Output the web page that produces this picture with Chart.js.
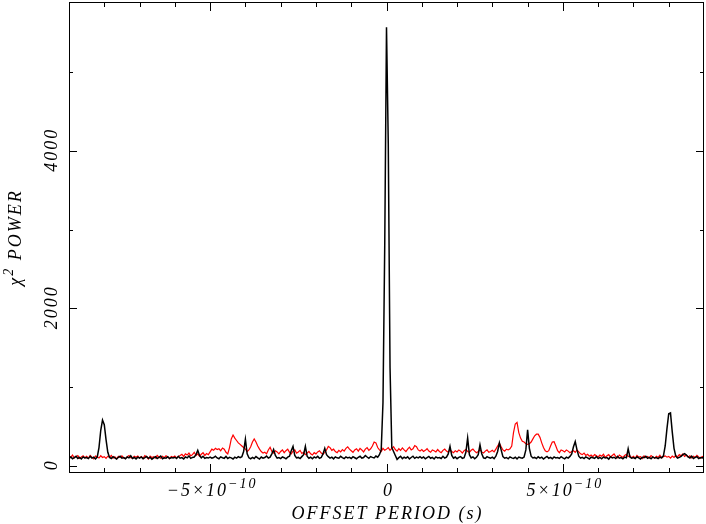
<!DOCTYPE html>
<html><head><meta charset="utf-8">
<script src="https://cdn.jsdelivr.net/npm/chart.js@4.4.0/dist/chart.umd.min.js"></script>
<style>html,body{margin:0;padding:0;background:#fff}</style>
</head><body>
<canvas id="c" width="706" height="524"></canvas>
<script>
// Offset period grid: starts at -9e-10 s, step 5e-12 s (361 samples)
const offsetStart = -9e-10;
const offsetStep = 5e-12;

// chi^2 power, black series (one row = 1e-10 s)
const blackPower = [
 95,110,88,102,120,92,105,85,112,98,104,90,118,96,108,87,110,230,450,580,
 520,330,170,105,92,115,98,84,106,120,95,102,88,110,99,125,92,104,86,108,
 97,112,89,103,118,94,107,83,100,115,92,105,121,88,101,96,113,90,104,98,
 107,91,118,95,102,86,111,99,124,93,105,110,140,195,130,100,120,92,103,97,
 110,95,104,120,98,88,112,101,93,117,90,106,99,85,108,96,114,102,115,180,
 335,150,100,88,105,92,116,99,84,110,95,103,122,97,108,150,205,130,96,104,
 90,112,101,87,109,120,190,245,130,98,105,91,115,140,245,120,95,107,88,110,
 99,118,93,104,150,220,140,115,96,108,87,112,100,94,119,103,90,111,98,106,
 92,114,101,88,107,120,96,104,130,110,93,116,105,98,122,108,140,200,800,2800,
 5570,4100,1250,230,180,130,80,102,118,90,107,95,112,86,104,120,93,108,99,115,
 96,110,88,103,117,94,106,85,112,99,104,91,119,97,108,150,245,130,95,110,
 89,105,116,93,101,170,350,140,98,112,87,106,140,265,150,100,92,115,103,96,
 108,90,120,180,290,200,115,95,104,88,112,99,93,107,86,110,101,95,110,200,
 455,220,120,98,105,90,113,96,108,85,102,117,94,106,89,111,98,104,92,115,
 100,87,109,96,118,150,240,305,200,120,95,106,90,112,99,85,108,101,94,116,
 92,105,88,110,97,103,84,114,99,107,91,118,95,102,87,109,100,215,110,96,
 104,90,113,98,85,107,101,119,93,105,88,111,97,103,90,108,100,125,250,470,
 660,670,430,220,120,95,105,118,140,152,135,110,98,120,92,106,115,90,104,97,
 108
];

// chi^2 power, red series
const redPower = [
 120,105,135,98,115,128,92,110,125,100,118,95,130,108,88,122,112,97,126,104,
 115,93,120,108,130,96,112,87,118,105,124,99,90,114,128,101,95,119,107,123,
 98,116,92,127,110,85,121,104,113,96,131,108,94,119,102,125,111,89,117,106,
 122,100,115,130,145,118,150,135,160,125,140,170,130,150,120,145,165,130,155,140,
 175,210,195,220,205,215,190,225,210,170,150,230,340,390,350,320,290,270,250,230,
 210,180,200,240,300,340,300,250,210,180,160,170,150,200,235,180,160,190,175,150,
 180,200,165,190,210,170,150,185,200,160,175,195,155,170,140,160,180,150,135,165,
 150,175,190,160,145,170,200,245,230,195,210,180,165,195,175,205,185,220,240,210,
 190,170,200,215,185,220,200,175,210,230,195,215,250,300,290,230,200,180,220,195,
 210,230,195,220,240,205,185,215,195,225,200,180,210,235,200,215,255,240,200,185,
 205,180,195,215,185,170,200,190,175,205,180,165,195,210,185,170,200,180,165,190,
 175,200,185,160,190,205,180,170,195,210,185,165,180,200,175,160,185,200,170,180,
 195,175,210,250,285,240,200,185,210,200,215,250,420,530,550,420,350,310,300,280,
 270,280,300,340,380,400,400,360,290,230,190,175,190,250,300,305,250,190,165,200,
 190,175,200,185,165,180,190,170,200,175,150,140,160,130,145,120,135,115,140,125,
 110,135,120,145,105,125,140,110,130,150,115,100,135,120,105,130,145,115,125,100,
 120,95,130,108,115,92,125,105,118,98,128,110,95,120,105,132,100,115,125,108,
 118,95,122,105,130,112,140,125,150,118,135,110,126,98,120,105,130,112,95,118,
 108
];

// Axis ticks
const xMajorTicks = [-5e-10, 0, 5e-10];
const xMinorTicks = [-8e-10,-7e-10,-6e-10,-4e-10,-3e-10,-2e-10,-1e-10,1e-10,2e-10,3e-10,4e-10,6e-10,7e-10,8e-10];
const xTickMain = ['\u22125\u00d710', '0', '5\u00d710'];
const xTickSup = ['\u221210', '', '\u221210'];
const yMajorTicks = [0, 2000, 4000];
const yMinorTicks = [1000, 3000, 5000];
const yTickLabels = ['0', '2000', '4000'];
const xTitle = 'OFFSET PERIOD (s)';
const yTitleParts = ['\u03c7', '2', ' POWER'];

const blackData = blackPower.map((v, i) => ({x: offsetStart + i * offsetStep, y: v}));
const redData = redPower.map((v, i) => ({x: offsetStart + i * offsetStep, y: v}));

const MAIN_FONT = 'italic 18px "Liberation Serif"';
const SUP_FONT = 'italic 14px "Liberation Serif"';

const framePlugin = {
  id: 'pgframe',
  afterDraw(chart) {
    const {ctx, chartArea: a, scales: {x, y}} = chart;
    ctx.save();
    ctx.strokeStyle = '#000';
    ctx.lineWidth = 1;
    ctx.strokeRect(a.left + 0.5, a.top + 0.5, a.right - a.left - 1, a.bottom - a.top - 1);
    ctx.beginPath();
    const xt = (v, len) => {
      const p = Math.round(x.getPixelForValue(v)) + 0.5;
      ctx.moveTo(p, a.bottom); ctx.lineTo(p, a.bottom - len);
      ctx.moveTo(p, a.top); ctx.lineTo(p, a.top + len);
    };
    const yt = (v, len) => {
      const p = Math.round(y.getPixelForValue(v)) + 0.5;
      ctx.moveTo(a.left, p); ctx.lineTo(a.left + len, p);
      ctx.moveTo(a.right, p); ctx.lineTo(a.right - len, p);
    };
    xMajorTicks.forEach(v => xt(v, 9));
    xMinorTicks.forEach(v => xt(v, 5));
    yMajorTicks.forEach(v => yt(v, 8));
    yMinorTicks.forEach(v => yt(v, 4));
    ctx.stroke();

    ctx.fillStyle = '#000';
    ctx.letterSpacing = '2px';
    ctx.textBaseline = 'alphabetic';
    // x tick labels
    xMajorTicks.forEach((v, i) => {
      const px = x.getPixelForValue(v);
      ctx.font = MAIN_FONT;
      const w1 = ctx.measureText(xTickMain[i]).width;
      ctx.font = SUP_FONT;
      const w2 = xTickSup[i] ? ctx.measureText(xTickSup[i]).width : 0;
      let sx = px - (w1 + w2) / 2 + 2;
      ctx.textAlign = 'left';
      ctx.font = MAIN_FONT;
      ctx.fillText(xTickMain[i], sx, 496);
      if (xTickSup[i]) {
        ctx.font = SUP_FONT;
        ctx.fillText(xTickSup[i], sx + w1, 488);
      }
    });
    // x title
    ctx.font = MAIN_FONT;
    ctx.textAlign = 'center';
    ctx.fillText(xTitle, (a.left + a.right) / 2 + 1, 519);
    // y tick labels (rotated)
    yMajorTicks.forEach((v, i) => {
      const py = y.getPixelForValue(v);
      ctx.save();
      ctx.translate(57, py);
      ctx.rotate(-Math.PI / 2);
      ctx.font = MAIN_FONT;
      ctx.textAlign = 'center';
      ctx.fillText(yTickLabels[i], 1, 0);
      ctx.restore();
    });
    // y title (rotated)
    ctx.save();
    ctx.translate(21, (a.top + a.bottom) / 2);
    ctx.rotate(-Math.PI / 2);
    ctx.textAlign = 'left';
    ctx.font = MAIN_FONT;
    const wa = ctx.measureText(yTitleParts[0]).width;
    const wc = ctx.measureText(yTitleParts[2]).width;
    ctx.font = SUP_FONT;
    const wb = ctx.measureText(yTitleParts[1]).width;
    let s = -(wa + wb + wc) / 2;
    ctx.font = MAIN_FONT;
    ctx.fillText(yTitleParts[0], s, 0);
    ctx.font = SUP_FONT;
    ctx.fillText(yTitleParts[1], s + wa, -8);
    ctx.font = MAIN_FONT;
    ctx.fillText(yTitleParts[2], s + wa + wb, 0);
    ctx.restore();
    ctx.restore();
  }
};

new Chart(document.getElementById('c'), {
  type: 'line',
  data: {
    datasets: [
      {label: 'black', data: blackData, borderColor: '#000000', borderWidth: 1.5, pointRadius: 0, tension: 0, order: 0},
      {label: 'red', data: redData, borderColor: '#ff0000', borderWidth: 1.2, pointRadius: 0, tension: 0, order: 1}
    ]
  },
  options: {
    responsive: false,
    animation: false,
    events: [],
    layout: {padding: {left: 69, right: 2, top: 2, bottom: 51}},
    plugins: {legend: {display: false}, tooltip: {enabled: false}},
    scales: {
      x: {type: 'linear', min: -9e-10, max: 9e-10, display: false},
      y: {type: 'linear', min: -93, max: 5890, display: false}
    }
  },
  plugins: [framePlugin]
});
</script>
</body></html>
